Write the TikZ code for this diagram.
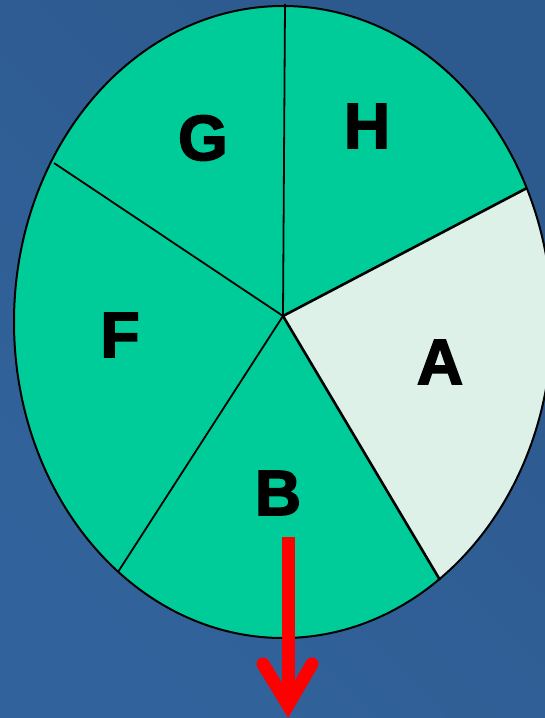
\documentclass[tikz,border=0pt]{standalone}
\usepackage{fontspec}
\newfontfamily\labfont[FakeBold=2.5]{Liberation Sans Bold}
\usetikzlibrary{calc}
\definecolor{bgdark}{HTML}{2D5A8E}
\definecolor{bglight}{HTML}{3466A0}
\definecolor{piegreen}{HTML}{00CC99}
\definecolor{pielight}{HTML}{DDF1E8}
\definecolor{arrowred}{HTML}{FF0000}
\tikzset{
  lab/.style={inner sep=0pt, font=\labfont\fontsize{64}{64}\selectfont, text=black},
  ray/.style={line width=1.8pt, black},
  raythick/.style={line width=2.6pt, black},
  rim/.style={line width=2pt, black},
}
\begin{document}
\begin{tikzpicture}[x=1pt,y=-1pt]
\useasboundingbox (0,0) rectangle (545,718);
\shade[left color=bglight, right color=bgdark, shading angle=135] (0,0) rectangle (545,718);
\fill[bgdark, opacity=0.25] (0,0) rectangle (545,718);
% pie body
\coordinate (C) at (283,316);
\coordinate (E) at (283,322);
\coordinate (pGH) at (285,4);
\coordinate (pHA) at (527,188);
\coordinate (pAB) at (440,580);
\coordinate (pBF) at (118,572);
\coordinate (pFG) at (54,163);
\fill[piegreen] (E) ellipse [x radius=269, y radius=316];
\begin{scope}
  \clip (E) ellipse [x radius=269, y radius=316];
  \fill[pielight] (C) -- ($(C)!3!(pHA)$) -- (1100,1200) -- ($(C)!3!(pAB)$) -- cycle;
\end{scope}
\draw[rim] (E) ellipse [x radius=269, y radius=316];
\draw[ray] (C) -- (pGH);
\draw[ray] (C) -- (pBF);
\draw[ray] (C) -- (pFG);
\draw[raythick] (C) -- (pHA);
\draw[raythick] (C) -- (pAB);
% labels
\node[lab] (G) at (203,138) {G};
\node[lab] (H) at (367,126) {H};
\node[lab] (F) at (120,335) {F};
\node[lab] (A) at (440,362) {A};
\node[lab] (B) at (278,493) {B};
% arrow
\coordinate (aTop) at (288,537);
\coordinate (aTip) at (288,705);
\coordinate (aL) at (263,664);
\coordinate (aR) at (312,664);
\draw[arrowred, line width=13pt] (aTop) -- ($(aTip)+(0,-6)$);
\draw[arrowred, line width=13pt, line cap=round, line join=miter] (aL) -- (aTip) -- (aR);
\end{tikzpicture}
\end{document}
